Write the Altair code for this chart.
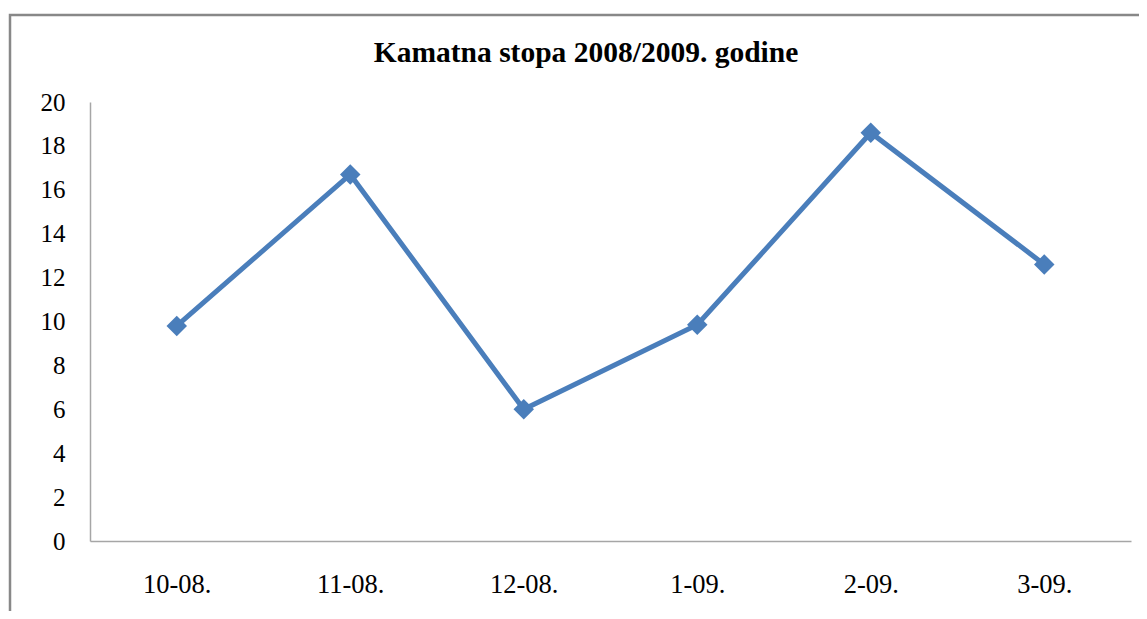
import altair as alt
import pandas as pd

months = ["10-08.", "11-08.", "12-08.", "1-09.", "2-09.", "3-09."]
rates = [9.8, 16.7, 6.0, 9.85, 18.6, 12.6]
title_text = "Kamatna stopa 2008/2009. godine"

df = pd.DataFrame({"month": months, "rate": rates})

W, H = 1041, 439
PL, PT = 82, 94

x_enc = alt.X("month:N", sort=months, title=None,
              scale=alt.Scale(paddingInner=0, paddingOuter=0.5),
              axis=alt.Axis(labelAngle=0, labelFont="Liberation Serif", labelFontSize=26.5,
                            labelColor="#000000", labelPadding=30, ticks=False,
                            domainColor="#a6a6a6", domainWidth=1.5, grid=False))
y_enc = alt.Y("rate:Q", title=None,
              scale=alt.Scale(domain=[0, 20], nice=False),
              axis=alt.Axis(values=list(range(0, 21, 2)), labelFont="Liberation Serif",
                            labelFontSize=25, labelColor="#000000", labelPadding=25,
                            ticks=False, domainColor="#a6a6a6", domainWidth=1.5, grid=False))

line = alt.Chart(df).mark_line(color="#4a7ebb", strokeWidth=5).encode(x=x_enc, y=y_enc)
pts = alt.Chart(df).mark_point(shape="diamond", filled=True, opacity=1, size=420,
                               color="#4a7ebb").encode(x=x_enc, y=y_enc)

frame = alt.Chart(pd.DataFrame({"f": [0]})).mark_rect(
    fill=None, stroke="#888888", strokeWidth=2.5, clip=False
).encode(x=alt.value(-80), x2=alt.value(1075), y=alt.value(-87), y2=alt.value(540))

title = alt.Chart(pd.DataFrame({"t": [title_text]})).mark_text(
    font="Liberation Serif", fontSize=29.5, fontWeight="bold", color="#000000",
    align="center", baseline="alphabetic", clip=False
).encode(text="t:N", x=alt.value(586 - 8 - PL), y=alt.value(62 - 8 - PT))

chart = alt.layer(frame, line, pts, title).properties(
    width=W, height=H,
    autosize=alt.AutoSizeParams(type="none"),
    padding={"left": PL, "top": PT, "right": 8, "bottom": 70},
).configure(background="#ffffff").configure_view(stroke=None)

chart.save("out.html", embed_options={"renderer": "svg", "actions": False})
